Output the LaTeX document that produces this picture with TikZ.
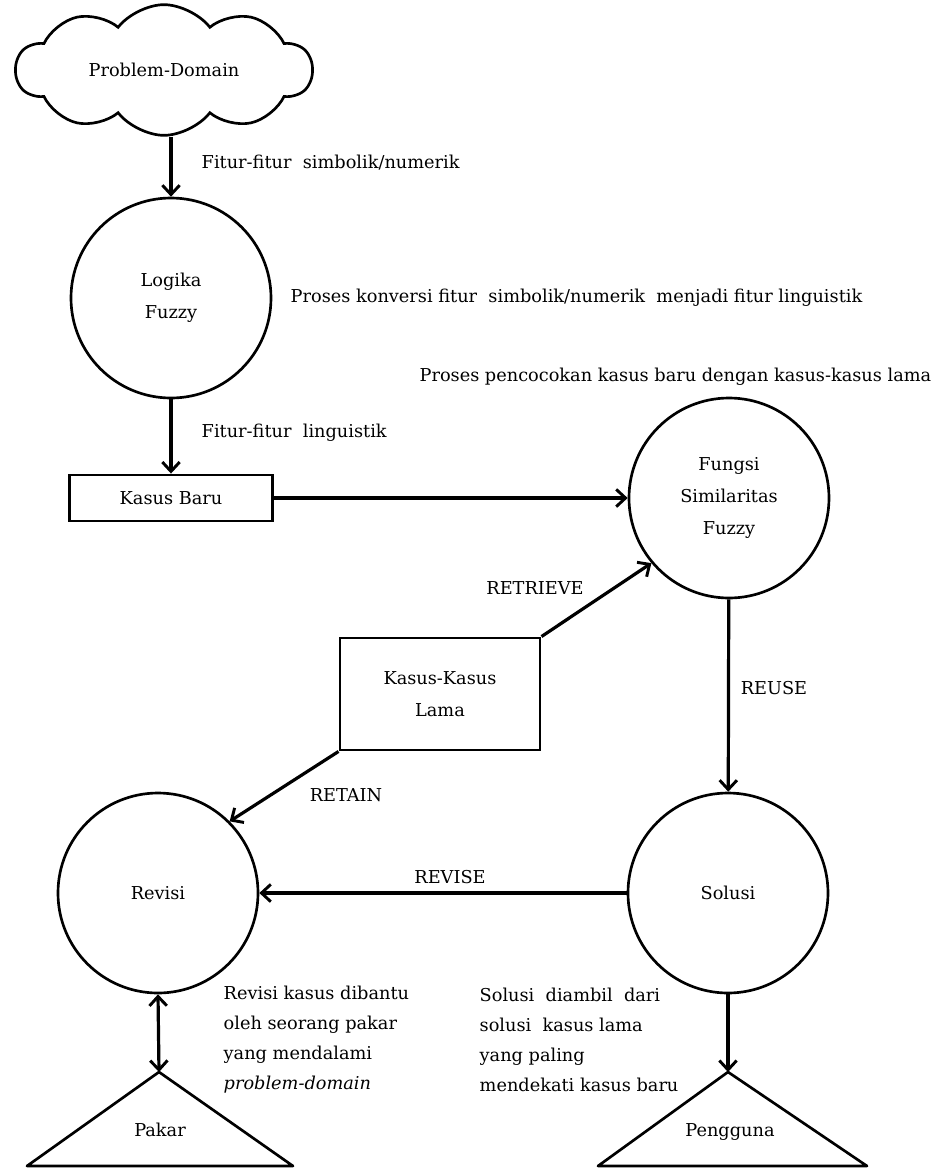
\documentclass[tikz,border=0pt]{standalone}
\usepackage{fontspec}
\setmainfont{DejaVu Serif}
\usetikzlibrary{arrows.meta,shapes.symbols}
\tikzset{
  proc/.style={draw, circle, line width=2pt, minimum size=150pt, inner sep=0pt, align=center},
  store/.style={draw, rectangle, line width=2.2pt, inner sep=0pt, align=center},
  arr/.style={line width=2.4pt, -{Straight Barb[length=7pt,width=13pt,line width=2.2pt]}},
  darr/.style={line width=2.4pt, {Straight Barb[length=7pt,width=13pt,line width=2.2pt]}-{Straight Barb[length=7pt,width=13pt,line width=2.2pt]}},
  actor/.style={line width=2pt, line join=round},
}
\begin{document}
\begin{tikzpicture}[x=0.75pt, y=-0.75pt, font=\fontsize{13.3}{24}\selectfont]%CBR fuzzy
\useasboundingbox (0,0) rectangle (936,1168);
% nodes
\node[cloud, draw, line width=2pt, cloud puffs=10, cloud puff arc=105, aspect=2.3,
      minimum width=222pt, minimum height=98pt, inner sep=0pt] (domain) at (164,70) {Problem-Domain};
\node[proc] (logika) at (171,298) {Logika\\Fuzzy};
\node[store, minimum width=152pt, minimum height=34.5pt] (baru) at (171,498) {Kasus Baru};
\node[proc] (fungsi) at (729,498) {Fungsi\\Similaritas\\Fuzzy};
\node[store, minimum width=150pt, minimum height=84pt] (lama) at (440,694) {Kasus-Kasus\\Lama};
\node[proc] (solusi) at (728,893) {Solusi};
\node[proc] (revisi) at (158,893) {Revisi};
\coordinate (pakartop) at (159,1072);
\coordinate (penggunatop) at (728,1072);
\draw[actor] (pakartop) -- (27,1166) -- (293,1166) -- cycle;
\draw[actor] (penggunatop) -- (598,1166) -- (867,1166) -- cycle;
\node[anchor=base] (pakar) at (160,1136) {Pakar};
\node[anchor=base] (pengguna) at (730,1136) {Pengguna};
% labels
\node[anchor=west] (lblsimbolik) at (197,163) {Fitur-fitur\ \ simbolik/numerik};
\node[anchor=west] (lblkonversi) at (286,298) {Proses konversi fitur\ \ simbolik/numerik\ \ menjadi fitur linguistik};
\node[anchor=east] (lblcocok) at (936,377) {Proses pencocokan kasus baru dengan kasus-kasus lama};
\node[anchor=west] (lbllinguistik) at (197,433) {Fitur-fitur\ \ linguistik};
\node (lblretrieve) at (535,588) {RETRIEVE};
\node (lblreuse) at (774,688) {REUSE};
\node (lblretain) at (346,795) {RETAIN};
\node (lblrevise) at (450,877) {REVISE};
\node[anchor=west, align=left, font=\fontsize{13.3}{22.5}\selectfont] (lblpakar) at (219,1040)
  {Revisi kasus dibantu\\oleh\ seorang pakar\\yang mendalami\\\textit{problem-domain}};
\node[anchor=west, align=left, font=\fontsize{13.3}{22.5}\selectfont] (lblsolusi) at (475,1040)
  {Solusi\ \ diambil\ \ dari\\solusi\ \ kasus lama\\yang paling\\mendekati\ kasus baru};
% connectors
\draw[arr] (domain.south -| logika.north) -- (logika.north);
\draw[arr] (logika) -- (baru);
\draw[arr] (baru) -- (fungsi);
\draw[arr] (lama.north east) -- (fungsi.220);
\draw[arr] (fungsi) -- (solusi);
\draw[arr] (lama.south west) -- (revisi.45);
\draw[arr] (solusi) -- (revisi);
\draw[darr] (revisi.south) -- (pakartop);
\draw[arr] (solusi) -- (penggunatop);
\end{tikzpicture}
\end{document}
